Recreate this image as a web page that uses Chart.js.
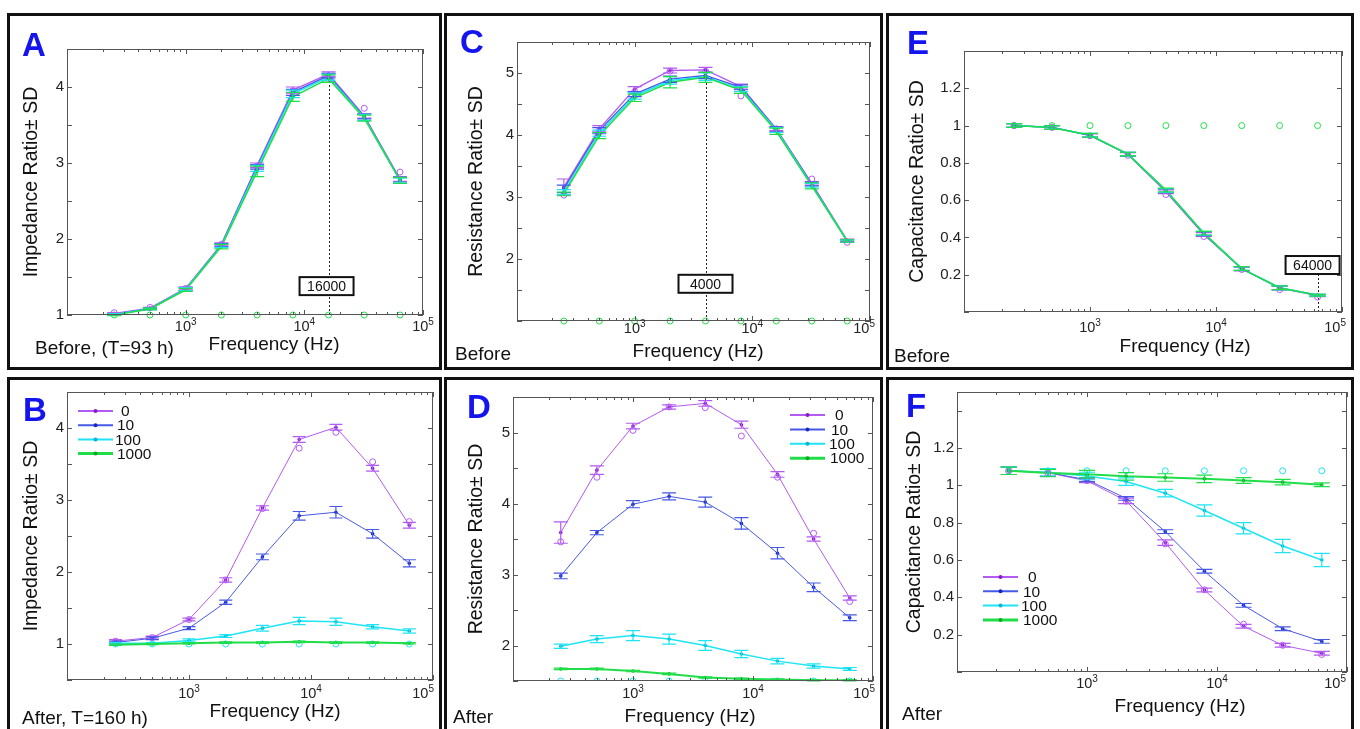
<!DOCTYPE html>
<html>
<head>
<meta charset="utf-8">
<title>Impedance, resistance and capacitance ratios</title>
<script src="https://cdn.jsdelivr.net/npm/chart.js@4.4.1/dist/chart.umd.min.js"></script>
<style>
  body { margin: 0; width: 1360px; height: 729px; overflow: hidden; background: #fff;
         font-family: "Liberation Sans", Arial, sans-serif; color: #111; }
  .panel { position: absolute; border: 3px solid #111; box-sizing: border-box; }
  canvas { position: absolute; }
  .txt { position: absolute; line-height: 1; white-space: nowrap; transform: translateY(-50%); }
  .letter { font-weight: bold; font-size: 33px; color: #1414f0; }
  .note { font-size: 19px; }
  .xtitle { font-size: 19px; transform: translate(-50%, -50%); }
</style>
</head>
<body>
<script>
const freqs = [250, 500, 1000, 2000, 4000, 8000, 16000, 32000, 64000];
const doses = ['0', '10', '100', '1000'];
const decades = [1000, 10000, 100000];

// A - impedance ratio, before (rows: 0, 10, 100, 1000)
const impBefore = [
  [1.02, 1.09, 1.35, 1.93, 2.97, 3.96, 4.17, 3.62, 2.79],
  [1.01, 1.08, 1.34, 1.92, 2.95, 3.93, 4.15, 3.61, 2.78],
  [1.01, 1.08, 1.34, 1.91, 2.93, 3.91, 4.13, 3.60, 2.77],
  [1.00, 1.08, 1.33, 1.90, 2.89, 3.87, 4.11, 3.59, 2.77]
];
const impBeforeSD = [
  [0.01, 0.01, 0.02, 0.02, 0.03, 0.04, 0.03, 0.03, 0.03],
  [0.01, 0.01, 0.02, 0.02, 0.03, 0.04, 0.03, 0.03, 0.03],
  [0.01, 0.01, 0.02, 0.02, 0.04, 0.05, 0.04, 0.04, 0.03],
  [0.01, 0.01, 0.02, 0.03, 0.07, 0.06, 0.05, 0.04, 0.04]
];
const impBeforeOpen = [1.03, 1.10, 1.35, 1.93, 2.96, 3.95, 4.10, 3.72, 2.88];
const impBeforeBase = [1, 1, 1, 1, 1, 1, 1, 1, 1];

// C - resistance ratio, before
const resBefore = [
  [3.16, 4.10, 4.74, 5.04, 5.05, 4.78, 4.10, 3.22, 2.30],
  [3.13, 4.07, 4.66, 4.90, 4.96, 4.77, 4.09, 3.21, 2.29],
  [3.08, 4.03, 4.63, 4.88, 4.94, 4.74, 4.08, 3.19, 2.29],
  [3.05, 3.99, 4.60, 4.85, 4.93, 4.72, 4.06, 3.18, 2.29]
];
const resBeforeSD = [
  [0.13, 0.05, 0.04, 0.04, 0.04, 0.04, 0.03, 0.03, 0.02],
  [0.06, 0.05, 0.04, 0.05, 0.05, 0.04, 0.04, 0.03, 0.02],
  [0.04, 0.05, 0.05, 0.06, 0.06, 0.04, 0.04, 0.03, 0.02],
  [0.03, 0.05, 0.06, 0.09, 0.08, 0.05, 0.05, 0.05, 0.02]
];
const resBeforeOpen = [3.03, 4.07, 4.70, 5.03, 5.03, 4.63, 4.10, 3.29, 2.27];
const resBeforeBase = [1, 1, 1, 1, 1, 1, 1, 1, 1];

// E - capacitance ratio, before
const capBefore = [
  [1.00, 0.99, 0.947, 0.845, 0.645, 0.415, 0.232, 0.128, 0.088],
  [1.00, 0.99, 0.947, 0.846, 0.650, 0.420, 0.232, 0.130, 0.090],
  [1.00, 0.99, 0.948, 0.847, 0.652, 0.422, 0.233, 0.130, 0.090],
  [1.00, 0.99, 0.948, 0.847, 0.654, 0.423, 0.233, 0.130, 0.090]
];
const capBeforeSD = [
  [0.01, 0.01, 0.01, 0.01, 0.01, 0.01, 0.01, 0.01, 0.005],
  [0.01, 0.01, 0.01, 0.01, 0.01, 0.01, 0.01, 0.01, 0.005],
  [0.01, 0.01, 0.01, 0.01, 0.01, 0.01, 0.01, 0.01, 0.005],
  [0.01, 0.01, 0.01, 0.01, 0.01, 0.01, 0.01, 0.01, 0.005]
];
const capBeforeOpen = [1.00, 0.99, 0.945, 0.84, 0.63, 0.405, 0.228, 0.12, 0.08];
const capBeforeBase = [1, 1, 1, 1, 1, 1, 1, 1, 1];

// B - impedance ratio, after
const impAfter = [
  [1.04, 1.09, 1.34, 1.89, 2.89, 3.84, 4.01, 3.44, 2.65],
  [1.02, 1.08, 1.22, 1.58, 2.21, 2.78, 2.83, 2.53, 2.12],
  [1.01, 1.01, 1.05, 1.11, 1.22, 1.32, 1.31, 1.24, 1.18],
  [0.99, 1.00, 1.01, 1.02, 1.02, 1.03, 1.02, 1.02, 1.01]
];
const impAfterSD = [
  [0.02, 0.02, 0.02, 0.03, 0.03, 0.04, 0.04, 0.04, 0.04],
  [0.02, 0.02, 0.02, 0.03, 0.04, 0.06, 0.08, 0.06, 0.05],
  [0.01, 0.01, 0.02, 0.02, 0.04, 0.05, 0.05, 0.03, 0.03],
  [0.01, 0.01, 0.01, 0.01, 0.01, 0.01, 0.01, 0.01, 0.01]
];
const impAfterOpen = [1.04, 1.09, 1.34, 1.89, 2.88, 3.72, 3.94, 3.53, 2.70];
const impAfterBase = [1, 1, 1, 1, 1, 1, 1, 1, 1];

// D - resistance ratio, after
const resAfter = [
  [3.59, 4.47, 5.09, 5.36, 5.41, 5.11, 4.41, 3.50, 2.67],
  [2.98, 3.59, 3.99, 4.10, 4.02, 3.72, 3.30, 2.82, 2.39],
  [1.99, 2.09, 2.14, 2.09, 2.00, 1.88, 1.78, 1.71, 1.67],
  [1.67, 1.67, 1.64, 1.60, 1.55, 1.53, 1.52, 1.51, 1.51]
];
const resAfterSD = [
  [0.15, 0.06, 0.04, 0.03, 0.04, 0.05, 0.04, 0.03, 0.03],
  [0.04, 0.03, 0.05, 0.05, 0.07, 0.08, 0.08, 0.06, 0.04],
  [0.03, 0.05, 0.07, 0.07, 0.07, 0.05, 0.04, 0.03, 0.02],
  [0.01, 0.01, 0.01, 0.01, 0.01, 0.01, 0.01, 0.01, 0.01]
];
const resAfterOpen = [3.46, 4.37, 5.03, 5.36, 5.35, 4.95, 4.37, 3.58, 2.62];
const resAfterBase = [1.5, 1.5, 1.5, 1.5, 1.5, 1.5, 1.5, 1.5, 1.5];

// F - capacitance ratio, after
const capAfter = [
  [1.078, 1.068, 1.024, 0.917, 0.693, 0.439, 0.245, 0.143, 0.100],
  [1.078, 1.068, 1.030, 0.930, 0.752, 0.540, 0.357, 0.232, 0.164],
  [1.078, 1.070, 1.050, 1.020, 0.958, 0.865, 0.770, 0.675, 0.600],
  [1.078, 1.066, 1.060, 1.048, 1.042, 1.035, 1.026, 1.017, 1.003]
];
const capAfterSD = [
  [0.02, 0.02, 0.01, 0.015, 0.015, 0.01, 0.01, 0.01, 0.01],
  [0.02, 0.02, 0.01, 0.01, 0.01, 0.01, 0.01, 0.01, 0.01],
  [0.02, 0.02, 0.02, 0.02, 0.02, 0.03, 0.03, 0.035, 0.035],
  [0.02, 0.02, 0.02, 0.02, 0.02, 0.02, 0.015, 0.015, 0.01]
];
const capAfterOpen = [1.078, 1.065, 1.025, 0.915, 0.686, 0.44, 0.256, 0.143, 0.094];
const capAfterBase = [1.078, 1.078, 1.078, 1.078, 1.078, 1.078, 1.078, 1.078, 1.078];

const lineColors = ['#b25af2', '#4658e6', '#1ee4f6', '#20de48'];
const dotColors = ['#8c18cc', '#1428c8', '#00b4d8', '#12a81e'];
const FONT = '"Liberation Sans", Arial, sans-serif';

// vertical error bars from each dataset's sd array
const errorBars = {
  id: 'errorBars',
  afterDatasetsDraw(chart, args, opts) {
    const { ctx, scales: { x, y } } = chart;
    const cap = opts.cap || 6;
    chart.data.datasets.forEach(ds => {
      if (!ds.sd) return;
      ctx.save();
      ctx.strokeStyle = ds.borderColor;
      ctx.lineWidth = 1.2;
      ctx.beginPath();
      ds.data.forEach((p, i) => {
        const px = x.getPixelForValue(p.x);
        const hi = y.getPixelForValue(p.y + ds.sd[i]);
        const lo = y.getPixelForValue(p.y - ds.sd[i]);
        ctx.moveTo(px, hi); ctx.lineTo(px, lo);
        ctx.moveTo(px - cap, hi); ctx.lineTo(px + cap, hi);
        ctx.moveTo(px - cap, lo); ctx.lineTo(px + cap, lo);
      });
      ctx.stroke();
      ctx.restore();
    });
  }
};

// boxed axes with inward ticks on all four sides
const matlabFrame = {
  id: 'matlabFrame',
  afterDatasetsDraw(chart) {
    const { ctx, chartArea: a, scales: { x, y } } = chart;
    ctx.save();
    ctx.strokeStyle = '#555';
    ctx.lineWidth = 1;
    ctx.strokeRect(a.left + 0.5, a.top + 0.5, a.width - 1, a.height - 1);
    ctx.beginPath();
    y.ticks.forEach(t => {
      const py = Math.round(y.getPixelForValue(t.value)) + 0.5;
      ctx.moveTo(a.left, py); ctx.lineTo(a.left + 5, py);
      ctx.moveTo(a.right, py); ctx.lineTo(a.right - 5, py);
    });
    for (let d = 100; d <= 100000; d *= 10) {
      for (let k = 1; k < 10; k++) {
        const v = d * k;
        if (v > x.max) break;
        const px = Math.round(x.getPixelForValue(v)) + 0.5;
        const len = k === 1 ? 5 : 3;
        ctx.moveTo(px, a.bottom); ctx.lineTo(px, a.bottom - len);
        ctx.moveTo(px, a.top); ctx.lineTo(px, a.top + len);
      }
    }
    ctx.stroke();
    ctx.restore();
  }
};

// "10" with a raised exponent under each decade tick; the last one is kept inside the panel
const decadeLabels = {
  id: 'decadeLabels',
  afterDraw(chart, args, opts) {
    const { ctx, chartArea: a, scales: { x }, width } = chart;
    ctx.save();
    ctx.fillStyle = '#222';
    ctx.textAlign = 'left';
    ctx.textBaseline = 'alphabetic';
    x.ticks.forEach(t => {
      const exp = String(Math.round(Math.log10(t.value)));
      ctx.font = '14.5px ' + FONT;
      const wBase = ctx.measureText('10').width;
      ctx.font = '10px ' + FONT;
      const w = wBase + ctx.measureText(exp).width;
      const left = Math.min(x.getPixelForValue(t.value) - w / 2, width - 8 - w);
      const base = a.bottom + (opts.drop || 16);
      ctx.font = '14.5px ' + FONT;
      ctx.fillText('10', left, base);
      ctx.font = '10px ' + FONT;
      ctx.fillText(exp, left + wBase, base - 6);
    });
    ctx.restore();
  }
};

// dotted line at a chosen frequency with a boxed label
const peakMarker = {
  id: 'peakMarker',
  beforeDatasetsDraw(chart, args, opts) {
    if (!opts || !opts.at) return;
    const { ctx, chartArea: a, scales: { x, y } } = chart;
    const px = Math.round(x.getPixelForValue(opts.at)) + 0.5;
    const peak = Math.max(...chart.data.datasets.filter(d => d.sd)
      .map(d => d.data.find(p => p.x === opts.at).y));
    const top = Math.min(y.getPixelForValue(peak), y.getPixelForValue(opts.boxAt));
    ctx.save();
    ctx.strokeStyle = '#222';
    ctx.lineWidth = 1;
    ctx.setLineDash([2, 2]);
    ctx.beginPath();
    ctx.moveTo(px, a.bottom); ctx.lineTo(px, top);
    ctx.stroke();
    ctx.restore();
  },
  afterDraw(chart, args, opts) {
    if (!opts || !opts.at) return;
    const { ctx, scales: { x, y } } = chart;
    const px = x.getPixelForValue(opts.at) + (opts.shift || 0);
    const py = y.getPixelForValue(opts.boxAt);
    const w = 54, h = 18;
    ctx.save();
    ctx.fillStyle = '#fff';
    ctx.fillRect(px - w / 2, py - h / 2, w, h);
    ctx.strokeStyle = '#111';
    ctx.lineWidth = 2;
    ctx.strokeRect(px - w / 2, py - h / 2, w, h);
    ctx.fillStyle = '#111';
    ctx.font = '14px ' + FONT;
    ctx.textAlign = 'center';
    ctx.textBaseline = 'middle';
    ctx.fillText(String(opts.at), px, py + 1);
    ctx.restore();
  }
};

// legend with line + dot samples inside the plot
const doseLegend = {
  id: 'doseLegend',
  afterDraw(chart, args, opts) {
    if (!opts || opts.x === undefined) return;
    const { ctx, chartArea: a } = chart;
    chart.data.datasets.filter(d => d.sd).forEach((d, i) => {
      const x0 = a.left + opts.x;
      const yy = a.top + opts.y + i * opts.row;
      ctx.save();
      ctx.strokeStyle = d.borderColor;
      ctx.lineWidth = i === 3 ? 3 : 2;
      ctx.beginPath();
      ctx.moveTo(x0, yy); ctx.lineTo(x0 + 35, yy);
      ctx.stroke();
      ctx.fillStyle = d.pointBackgroundColor;
      ctx.beginPath();
      ctx.arc(x0 + 17.5, yy, 2, 0, Math.PI * 2);
      ctx.fill();
      ctx.fillStyle = '#111';
      ctx.font = '15.5px ' + FONT;
      ctx.textBaseline = 'middle';
      ctx.fillText(d.label, x0 + 39 + (opts.indent[i] || 0), yy + 1);
      ctx.restore();
    });
  }
};

const panels = [
  { letter: 'A', note: 'Before, (T=93 h)', yTitle: 'Impedance Ratio± SD',
    box: [7, 13, 442, 370], plot: [67, 49, 423, 315], titlePad: 13.6, drop: 16,
    yMin: 1, yMax: 4.5, yStep: 0.5, yLabels: [1, 2, 3, 4],
    values: impBefore, sd: impBeforeSD, widths: [1.3, 1.3, 1.5, 1.5], cap: 7,
    open: [[impBeforeOpen, 0, false], [impBeforeBase, 3, false]],
    marker: { at: 16000, boxAt: 1.38, shift: -2 },
    letterPos: [22, 44], notePos: [35, 347], xTitlePos: [274, 343] },
  { letter: 'C', note: 'Before', yTitle: 'Resistance Ratio± SD',
    box: [444, 13, 883, 370], plot: [517, 42, 870, 321], titlePad: 21.6, drop: 12,
    yMin: 1, yMax: 5.5, yStep: 0.5, yLabels: [2, 3, 4, 5],
    values: resBefore, sd: resBeforeSD, widths: [1.3, 1.3, 1.5, 1.5], cap: 7,
    open: [[resBeforeOpen, 0, false], [resBeforeBase, 3, false]],
    marker: { at: 4000, boxAt: 1.6, shift: 0 },
    letterPos: [460, 41], notePos: [455, 353], xTitlePos: [698, 350] },
  { letter: 'E', note: 'Before', yTitle: 'Capacitance Ratio± SD',
    box: [886, 13, 1354, 370], plot: [964, 51, 1342, 312], titlePad: 20.6, drop: 20,
    yMin: 0, yMax: 1.4, yStep: 0.2, yLabels: [0.2, 0.4, 0.6, 0.8, 1, 1.2],
    values: capBefore, sd: capBeforeSD, widths: [1.3, 1.3, 1.5, 1.5], cap: 8,
    open: [[capBeforeOpen, 0, false], [capBeforeBase, 3, false]],
    marker: { at: 64000, boxAt: 0.252, shift: -5 },
    letterPos: [907, 42], notePos: [894, 355], xTitlePos: [1185, 345] },
  { letter: 'B', note: 'After, T=160 h)', yTitle: 'Impedance Ratio± SD',
    box: [7, 377, 442, 729], plot: [67, 392, 433, 680], titlePad: 13.3, drop: 18,
    yMin: 0.5, yMax: 4.5, yStep: 0.5, yLabels: [1, 2, 3, 4],
    values: impAfter, sd: impAfterSD, widths: [1, 1, 1.5, 2], cap: 6.5,
    open: [[impAfterOpen, 0, false], [impAfterBase, 2, false]],
    legend: { x: 11, y: 19, row: 14.2, indent: [4, 0, -2, 0] },
    letterPos: [23, 409], notePos: [22, 717], xTitlePos: [275, 710] },
  { letter: 'D', note: 'After', yTitle: 'Resistance Ratio± SD',
    box: [444, 377, 883, 729], plot: [513, 397, 873, 681], titlePad: 21.3, drop: 17,
    yMin: 1.5, yMax: 5.5, yStep: 0.5, yLabels: [2, 3, 4, 5],
    values: resAfter, sd: resAfterSD, widths: [1, 1, 1.5, 2], cap: 7,
    open: [[resAfterOpen, 0, false], [resAfterBase, 2, undefined]],
    legend: { x: 277, y: 18, row: 14.4, indent: [6, 2, 0, 1] },
    letterPos: [467, 406], notePos: [453, 716], xTitlePos: [690, 715] },
  { letter: 'F', note: 'After', yTitle: 'Capacitance Ratio± SD',
    box: [886, 377, 1354, 729], plot: [957, 392, 1347, 672], titlePad: 17.6, drop: 16,
    yMin: 0, yMax: 1.5, yStep: 0.2, yLabels: [0.2, 0.4, 0.6, 0.8, 1, 1.2],
    values: capAfter, sd: capAfterSD, widths: [1, 1, 1.5, 2], cap: 8,
    open: [[capAfterOpen, 0, false], [capAfterBase, 2, false]],
    legend: { x: 26, y: 185, row: 14.3, indent: [6, 1, -1, 1] },
    letterPos: [906, 405], notePos: [902, 713], xTitlePos: [1180, 705] }
];

function addText(cls, text, x, y) {
  const el = document.createElement('div');
  el.className = 'txt ' + cls;
  el.textContent = text;
  el.style.left = x + 'px';
  el.style.top = y + 'px';
  document.body.appendChild(el);
}

panels.forEach(p => {
  const [bl, bt, br, bb] = p.box;
  const [pl, pt, pr, pb] = p.plot;
  const cw = br - bl, ch = bb - bt;

  const frame = document.createElement('div');
  frame.className = 'panel';
  Object.assign(frame.style, {
    left: bl + 'px', top: bt + 'px', width: cw + 'px',
    height: (bb >= 729 ? ch + 20 : ch) + 'px'
  });
  document.body.appendChild(frame);

  const canvas = document.createElement('canvas');
  canvas.width = cw;
  canvas.height = ch;
  canvas.style.left = bl + 'px';
  canvas.style.top = bt + 'px';
  document.body.appendChild(canvas);

  addText('letter', p.letter, p.letterPos[0], p.letterPos[1]);
  addText('note', p.note, p.notePos[0], p.notePos[1]);
  addText('xtitle', 'Frequency (Hz)', p.xTitlePos[0], p.xTitlePos[1]);

  const yTicks = [];
  for (let v = p.yMin; v <= p.yMax + 1e-9; v += p.yStep) yTicks.push(+v.toFixed(2));

  const datasets = p.values.map((row, i) => ({
    label: doses[i],
    data: row.map((v, j) => ({ x: freqs[j], y: v })),
    sd: p.sd[i],
    borderColor: lineColors[i],
    borderWidth: p.widths[i],
    pointBackgroundColor: dotColors[i],
    pointBorderWidth: 0,
    pointRadius: 1.8,
    tension: 0,
    order: 3 - i
  }));
  p.open.forEach(([vals, c, clip]) => datasets.push({
    label: '',
    data: vals.map((v, j) => ({ x: freqs[j], y: v })),
    showLine: false,
    pointStyle: 'circle',
    pointRadius: 3,
    pointBorderWidth: 1,
    pointBorderColor: lineColors[c],
    pointBackgroundColor: 'rgba(0,0,0,0)',
    borderColor: lineColors[c],
    clip: clip,
    order: -1
  }));

  new Chart(canvas.getContext('2d'), {
    type: 'line',
    data: { datasets },
    plugins: [peakMarker, errorBars, matlabFrame, decadeLabels, doseLegend],
    options: {
      responsive: false,
      animation: false,
      layout: { padding: { left: 0, top: pt - bt, right: br - pr, bottom: 0 } },
      plugins: {
        legend: { display: false },
        tooltip: { enabled: false },
        errorBars: { cap: p.cap },
        decadeLabels: { drop: p.drop },
        peakMarker: p.marker || {},
        doseLegend: p.legend || {}
      },
      scales: {
        x: {
          type: 'logarithmic',
          min: 100,
          max: 100000,
          grid: { display: false, drawTicks: false },
          border: { display: false },
          afterBuildTicks: s => { s.ticks = decades.map(value => ({ value })); },
          ticks: { display: false },
          afterFit: s => { s.height = ch - (pb - bt); s.paddingLeft = 0; s.paddingRight = 0; }
        },
        y: {
          min: p.yMin,
          max: p.yMax,
          grid: { display: false, drawTicks: false },
          border: { display: false },
          afterBuildTicks: s => { s.ticks = yTicks.map(value => ({ value })); },
          ticks: {
            autoSkip: false, padding: 3, color: '#222',
            font: { family: FONT, size: 15 },
            callback: v => p.yLabels.some(l => Math.abs(l - v) < 1e-6) ? String(+v.toFixed(1)) : ''
          },
          title: {
            display: true, text: p.yTitle, color: '#111',
            font: { family: FONT, size: 19.5 },
            padding: { top: p.titlePad - 0.3, bottom: 0 }
          },
          afterFit: s => { s.width = pl - bl; s.paddingTop = 0; s.paddingBottom = 0; }
        }
      }
    }
  });
});
</script>
</body>
</html>
